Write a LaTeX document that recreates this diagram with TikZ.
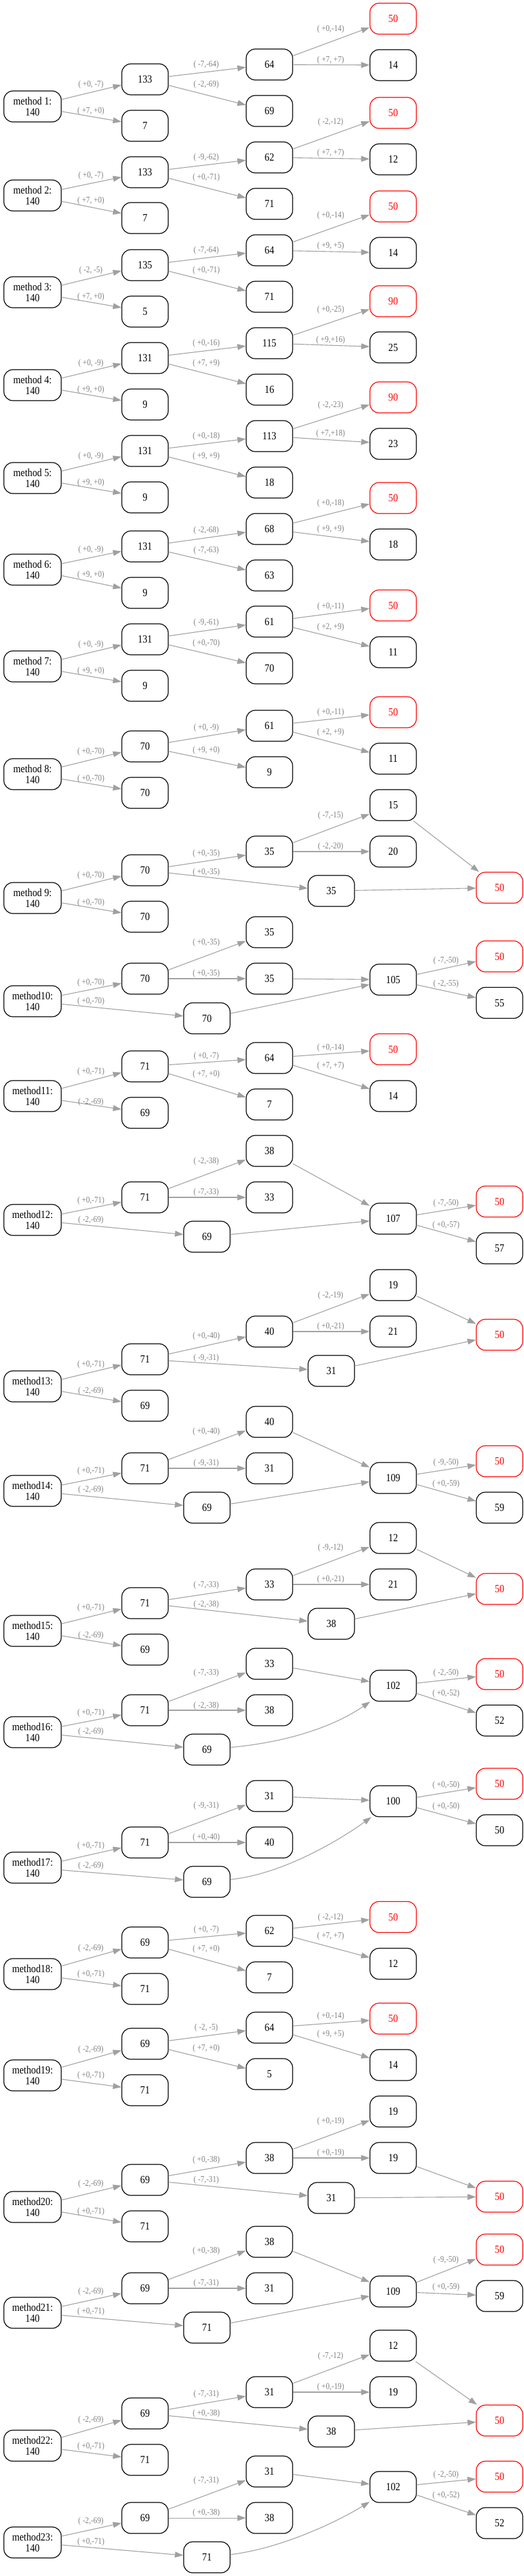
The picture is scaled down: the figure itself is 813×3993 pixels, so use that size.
\documentclass[tikz,border=0pt]{standalone}
\usepackage{fontspec}
\newfontfamily\nodefont[FakeStretch=0.87]{Liberation Serif}
\usetikzlibrary{arrows.meta}
\definecolor{edgegray}{RGB}{160,160,160}
\definecolor{labgray}{RGB}{128,128,128}
\definecolor{nodered}{RGB}{255,0,0}
\tikzset{
 nbox/.style={draw=black, line width=1.2pt, rounded corners=14pt, minimum width=72pt, minimum height=48pt, inner sep=0pt, font=\nodefont\fontsize{17}{17}\selectfont, align=center},
 redbox/.style={draw=nodered, text=nodered},
 mbox/.style={nbox, minimum width=89pt},
 conn/.style={draw=edgegray, line width=1.1pt, -{Triangle[length=13pt,width=9pt,fill=edgegray]}},
 lab/.style={text=labgray, font=\nodefont\fontsize{13.5}{13.5}\selectfont, inner sep=0pt},
}
\newcommand\boxnode[4]{\node[nbox] (#1) at (#2,#3) {#4};}
\newcommand\rednode[4]{\node[nbox,redbox] (#1) at (#2,#3) {#4};}
\newcommand\methnode[3]{\node[mbox] (#1) at (50.5,#2) {#3\\140};}
\newcommand\edgelab[5]{\draw[conn] (#1) -- (#2); \node[lab] (L#1#2) at (#3,#4) {#5};}
\newcommand\edgeplain[2]{\draw[conn] (#1) -- (#2);}
\begin{document}
\begin{tikzpicture}[x=1pt,y=-1pt]
\useasboundingbox (0,0) rectangle (813,3993);
% ---------- method 1
\methnode{m1}{165}{method 1:}
\boxnode{m1a}{225}{123}{133}
\boxnode{m1b}{225}{195}{7}
\boxnode{m1c}{418}{100}{64}
\boxnode{m1d}{418}{172}{69}
\rednode{m1e}{610}{29}{50}
\boxnode{m1f}{610}{101}{14}
\edgelab{m1}{m1a}{141}{131.7}{( +0, -7)}
\edgelab{m1}{m1b}{141}{172}{( +7, +0)}
\edgelab{m1a}{m1c}{320}{100}{( -7,-64)}
\edgelab{m1a}{m1d}{320}{131.7}{( -2,-69)}
\edgelab{m1c}{m1e}{513}{45}{( +0,-14)}
\edgelab{m1c}{m1f}{513}{93}{( +7, +7)}
% ---------- method 2
\methnode{m2}{303}{method 2:}
\boxnode{m2a}{225}{267}{133}
\boxnode{m2b}{225}{338}{7}
\boxnode{m2c}{418}{244}{62}
\boxnode{m2d}{418}{316}{71}
\rednode{m2e}{610}{175}{50}
\boxnode{m2f}{610}{247}{12}
\edgelab{m2}{m2a}{141}{272}{( +0, -7)}
\edgelab{m2}{m2b}{141}{311}{( +7, +0)}
\edgelab{m2a}{m2c}{320}{244}{( -9,-62)}
\edgelab{m2a}{m2d}{320}{275}{( +0,-71)}
\edgelab{m2c}{m2e}{513}{189}{( -2,-12)}
\edgelab{m2c}{m2f}{513}{237}{( +7, +7)}
% ---------- method 3
\methnode{m3}{453}{method 3:}
\boxnode{m3a}{225}{411}{135}
\boxnode{m3b}{225}{483}{5}
\boxnode{m3c}{418}{388}{64}
\boxnode{m3d}{418}{460}{71}
\rednode{m3e}{610}{320}{50}
\boxnode{m3f}{610}{392}{14}
\edgelab{m3}{m3a}{141}{419}{( -2, -5)}
\edgelab{m3}{m3b}{141}{460}{( +7, +0)}
\edgelab{m3a}{m3c}{320}{388.7}{( -7,-64)}
\edgelab{m3a}{m3d}{320}{419}{( +0,-71)}
\edgelab{m3c}{m3e}{513}{334}{( +0,-14)}
\edgelab{m3c}{m3f}{513}{381}{( +9, +5)}
% ---------- method 4
\methnode{m4}{597}{method 4:}
\boxnode{m4a}{225}{555}{131}
\boxnode{m4b}{225}{627}{9}
\boxnode{m4c}{418}{532}{115}
\boxnode{m4d}{418}{604}{16}
\rednode{m4e}{610}{467}{90}
\boxnode{m4f}{610}{538.5}{25}
\edgelab{m4}{m4a}{141}{563}{( +0, -9)}
\edgelab{m4}{m4b}{141}{604}{( +9, +0)}
\edgelab{m4a}{m4c}{320}{532}{( +0,-16)}
\edgelab{m4a}{m4d}{320}{563}{( +7, +9)}
\edgelab{m4c}{m4e}{513}{480}{( +0,-25)}
\edgelab{m4c}{m4f}{513}{527}{( +9,+16)}
% ---------- method 5
\methnode{m5}{741}{method 5:}
\boxnode{m5a}{225}{699}{131}
\boxnode{m5b}{225}{771}{9}
\boxnode{m5c}{418}{676}{113}
\boxnode{m5d}{418}{748}{18}
\rednode{m5e}{610}{616}{90}
\boxnode{m5f}{610}{688}{23}
\edgelab{m5}{m5a}{141}{707}{( +0, -9)}
\edgelab{m5}{m5b}{141}{748}{( +9, +0)}
\edgelab{m5a}{m5c}{320}{676}{( +0,-18)}
\edgelab{m5a}{m5d}{320}{707}{( +9, +9)}
\edgelab{m5c}{m5e}{513}{628}{( -2,-23)}
\edgelab{m5c}{m5f}{513}{672}{( +7,+18)}
% ---------- method 6
\methnode{m6}{883}{method 6:}
\boxnode{m6a}{225}{847}{131}
\boxnode{m6b}{225}{919}{9}
\boxnode{m6c}{418}{820}{68}
\boxnode{m6d}{418}{892}{63}
\rednode{m6e}{610}{772}{50}
\boxnode{m6f}{610}{844}{18}
\edgelab{m6}{m6a}{141}{852}{( +0, -9)}
\edgelab{m6}{m6b}{141}{891}{( +9, +0)}
\edgelab{m6a}{m6c}{320}{822}{( -2,-68)}
\edgelab{m6a}{m6d}{320}{853}{( -7,-63)}
\edgelab{m6c}{m6e}{513}{780}{( +0,-18)}
\edgelab{m6c}{m6f}{513}{820}{( +9, +9)}
% ---------- method 7
\methnode{m7}{1033}{method 7:}
\boxnode{m7a}{225}{991}{131}
\boxnode{m7b}{225}{1063}{9}
\boxnode{m7c}{418}{963.5}{61}
\boxnode{m7d}{418}{1036}{70}
\rednode{m7e}{610}{938.5}{50}
\boxnode{m7f}{610}{1011}{11}
\edgelab{m7}{m7a}{141}{999}{( +0, -9)}
\edgelab{m7}{m7b}{141}{1040}{( +9, +0)}
\edgelab{m7a}{m7c}{320}{965}{( -9,-61)}
\edgelab{m7a}{m7d}{320}{997}{( +0,-70)}
\edgelab{m7c}{m7e}{513}{940}{( +0,-11)}
\edgelab{m7c}{m7f}{513}{972}{( +2, +9)}
% ---------- method 8
\methnode{m8}{1200}{method 8:}
\boxnode{m8a}{225}{1157}{70}
\boxnode{m8b}{225}{1229}{70}
\boxnode{m8c}{418}{1125}{61}
\boxnode{m8d}{418}{1197}{9}
\rednode{m8e}{610}{1104}{50}
\boxnode{m8f}{610}{1176}{11}
\edgelab{m8}{m8a}{141}{1165}{( +0,-70)}
\edgelab{m8}{m8b}{141}{1207}{( +0,-70)}
\edgelab{m8a}{m8c}{320}{1128}{( +0, -9)}
\edgelab{m8a}{m8d}{320}{1163}{( +9, +0)}
\edgelab{m8c}{m8e}{513}{1104}{( +0,-11)}
\edgelab{m8c}{m8f}{513}{1135}{( +2, +9)}
% ---------- method 9
\methnode{m9}{1392}{method 9:}
\boxnode{m9a}{225}{1349}{70}
\boxnode{m9b}{225}{1421}{70}
\boxnode{m9c}{418}{1320}{35}
\boxnode{m9d}{514}{1381}{35}
\boxnode{m9e}{610}{1248}{15}
\boxnode{m9f}{610}{1320}{20}
\rednode{m9g}{775}{1376}{50}
\edgelab{m9}{m9a}{141}{1357}{( +0,-70)}
\edgelab{m9}{m9b}{141}{1399}{( +0,-70)}
\edgelab{m9a}{m9c}{320}{1323}{( +0,-35)}
\edgelab{m9a}{m9d}{320}{1352}{( +0,-35)}
\edgelab{m9c}{m9e}{513}{1264}{( -7,-15)}
\edgelab{m9c}{m9f}{513}{1312}{( -2,-20)}
\edgeplain{m9e}{m9g}
\edgeplain{m9d}{m9g}
% ---------- method 10
\methnode{m10}{1552}{method10:}
\boxnode{m10a}{225}{1517}{70}
\boxnode{m10b}{321}{1578.5}{70}
\boxnode{m10c}{418}{1445}{35}
\boxnode{m10d}{418}{1517}{35}
\boxnode{m10e}{610}{1518.5}{105}
\rednode{m10f}{775}{1482.5}{50}
\boxnode{m10g}{775}{1554.5}{55}
\edgelab{m10}{m10a}{141}{1523}{( +0,-70)}
\edgelab{m10}{m10b}{141}{1552}{( +0,-70)}
\edgelab{m10a}{m10c}{320}{1461}{( +0,-35)}
\edgelab{m10a}{m10d}{320}{1509}{( +0,-35)}
\edgeplain{m10d}{m10e}
\edgeplain{m10b}{m10e}
\edgelab{m10e}{m10f}{692}{1489}{( -7,-50)}
\edgelab{m10e}{m10g}{692}{1525}{( -2,-55)}
% ---------- method 11
\methnode{m11}{1699}{method11:}
\boxnode{m11a}{225}{1653}{71}
\boxnode{m11b}{225}{1725}{69}
\boxnode{m11c}{418}{1640}{64}
\boxnode{m11d}{418}{1712}{7}
\rednode{m11e}{610}{1626.5}{50}
\boxnode{m11f}{610}{1699}{14}
\edgelab{m11}{m11a}{141}{1661}{( +0,-71)}
\edgelab{m11}{m11b}{141}{1708}{( -2,-69)}
\edgelab{m11a}{m11c}{320}{1637}{( +0, -7)}
\edgelab{m11a}{m11d}{320}{1665}{( +7, +0)}
\edgelab{m11c}{m11e}{513}{1624}{( +0,-14)}
\edgelab{m11c}{m11f}{513}{1652}{( +7, +7)}
% ---------- method 12
\methnode{m12}{1891}{method12:}
\boxnode{m12a}{225}{1856}{71}
\boxnode{m12b}{321}{1917}{69}
\boxnode{m12c}{418}{1784}{38}
\boxnode{m12d}{418}{1856}{33}
\boxnode{m12e}{610}{1889}{107}
\rednode{m12f}{775}{1862.5}{50}
\boxnode{m12g}{775}{1935}{57}
\edgelab{m12}{m12a}{141}{1861}{( +0,-71)}
\edgelab{m12}{m12b}{141}{1891}{( -2,-69)}
\edgelab{m12a}{m12c}{320}{1800}{( -2,-38)}
\edgelab{m12a}{m12d}{320}{1848}{( -7,-33)}
\edgeplain{m12c}{m12e}
\edgeplain{m12b}{m12e}
\edgelab{m12e}{m12f}{692}{1865}{( -7,-50)}
\edgelab{m12e}{m12g}{692}{1899}{( +0,-57)}
% ---------- method 13
\methnode{m13}{2149}{method13:}
\boxnode{m13a}{225}{2107}{71}
\boxnode{m13b}{225}{2179}{69}
\boxnode{m13c}{418}{2064}{40}
\boxnode{m13d}{514}{2125}{31}
\boxnode{m13e}{610}{1992}{19}
\boxnode{m13f}{610}{2064}{21}
\rednode{m13g}{775}{2069}{50}
\edgelab{m13}{m13a}{141}{2115}{( +0,-71)}
\edgelab{m13}{m13b}{141}{2156}{( -2,-69)}
\edgelab{m13a}{m13c}{320}{2071}{( +0,-40)}
\edgelab{m13a}{m13d}{320}{2105}{( -9,-31)}
\edgelab{m13c}{m13e}{513}{2008}{( -2,-19)}
\edgelab{m13c}{m13f}{513}{2056}{( +0,-21)}
\edgeplain{m13e}{m13g}
\edgeplain{m13d}{m13g}
% ---------- method 14
\methnode{m14}{2311}{method14:}
\boxnode{m14a}{225}{2276}{71}
\boxnode{m14b}{321}{2337}{69}
\boxnode{m14c}{418}{2204}{40}
\boxnode{m14d}{418}{2276}{31}
\boxnode{m14e}{610}{2291}{109}
\rednode{m14f}{775}{2265}{50}
\boxnode{m14g}{775}{2337}{59}
\edgelab{m14}{m14a}{141}{2280}{( +0,-71)}
\edgelab{m14}{m14b}{141}{2309}{( -2,-69)}
\edgelab{m14a}{m14c}{320}{2219}{( +0,-40)}
\edgelab{m14a}{m14d}{320}{2268}{( -9,-31)}
\edgeplain{m14c}{m14e}
\edgeplain{m14b}{m14e}
\edgelab{m14e}{m14f}{692}{2267}{( -9,-50)}
\edgelab{m14e}{m14g}{692}{2300}{( +0,-59)}
% ---------- method 15
\methnode{m15}{2528}{method15:}
\boxnode{m15a}{225}{2485}{71}
\boxnode{m15b}{225}{2557}{69}
\boxnode{m15c}{418}{2456}{33}
\boxnode{m15d}{514}{2517}{38}
\boxnode{m15e}{610}{2384}{12}
\boxnode{m15f}{610}{2456}{21}
\rednode{m15g}{775}{2463}{50}
\edgelab{m15}{m15a}{141}{2492}{( +0,-71)}
\edgelab{m15}{m15b}{141}{2535}{( -2,-69)}
\edgelab{m15a}{m15c}{320}{2457}{( -7,-33)}
\edgelab{m15a}{m15d}{320}{2487}{( -2,-38)}
\edgelab{m15c}{m15e}{513}{2399}{( -9,-12)}
\edgelab{m15c}{m15f}{513}{2448}{( +0,-21)}
\edgeplain{m15e}{m15g}
\edgeplain{m15d}{m15g}
% ---------- method 16
\methnode{m16}{2685}{method16:}
\boxnode{m16a}{225}{2651}{71}
\boxnode{m16b}{321}{2712}{69}
\boxnode{m16c}{418}{2579}{33}
\boxnode{m16d}{418}{2651}{38}
\boxnode{m16e}{610}{2613}{102}
\rednode{m16f}{775}{2595}{50}
\boxnode{m16g}{775}{2667}{52}
\edgelab{m16}{m16a}{141}{2655}{( +0,-71)}
\edgelab{m16}{m16b}{141}{2684}{( -2,-69)}
\edgelab{m16a}{m16c}{320}{2593}{( -7,-33)}
\edgelab{m16a}{m16d}{320}{2644}{( -2,-38)}
\edgeplain{m16c}{m16e}
\draw[conn] (m16b) .. controls (450,2700) and (520,2675) .. (m16e);
\edgelab{m16e}{m16f}{692}{2593}{( -2,-50)}
\edgelab{m16e}{m16g}{692}{2625}{( +0,-52)}
% ---------- method 17
\methnode{m17}{2895}{method17:}
\boxnode{m17a}{225}{2856}{71}
\boxnode{m17b}{321}{2917}{69}
\boxnode{m17c}{418}{2784}{31}
\boxnode{m17d}{418}{2856}{40}
\boxnode{m17e}{610}{2792}{100}
\rednode{m17f}{775}{2765}{50}
\boxnode{m17g}{775}{2837}{50}
\edgelab{m17}{m17a}{141}{2861}{( +0,-71)}
\edgelab{m17}{m17b}{141}{2892}{( -2,-69)}
\edgelab{m17a}{m17c}{320}{2799}{( -9,-31)}
\edgelab{m17a}{m17d}{320}{2848}{( +0,-40)}
\edgeplain{m17c}{m17e}
\draw[conn] (m17b) .. controls (440,2905) and (530,2850) .. (m17e);
\edgelab{m17e}{m17f}{692}{2767}{( +0,-50)}
\edgelab{m17e}{m17g}{692}{2800}{( +0,-50)}
% ---------- method 18
\methnode{m18}{3060}{method18:}
\boxnode{m18a}{225}{3011}{69}
\boxnode{m18b}{225}{3083}{71}
\boxnode{m18c}{418}{2993}{62}
\boxnode{m18d}{418}{3065}{7}
\rednode{m18e}{610}{2971.5}{50}
\boxnode{m18f}{610}{3044}{12}
\edgelab{m18}{m18a}{141}{3020}{( -2,-69)}
\edgelab{m18}{m18b}{141}{3060}{( +0,-71)}
\edgelab{m18a}{m18c}{320}{2991}{( +0, -7)}
\edgelab{m18a}{m18d}{320}{3021}{( +7, +0)}
\edgelab{m18c}{m18e}{513}{2972}{( -2,-12)}
\edgelab{m18c}{m18f}{513}{3001}{( +7, +7)}
% ---------- method 19
\methnode{m19}{3217}{method19:}
\boxnode{m19a}{225}{3168}{69}
\boxnode{m19b}{225}{3240}{71}
\boxnode{m19c}{418}{3143}{64}
\boxnode{m19d}{418}{3215}{5}
\rednode{m19e}{610}{3129}{50}
\boxnode{m19f}{610}{3201}{14}
\edgelab{m19}{m19a}{141}{3177}{( -2,-69)}
\edgelab{m19}{m19b}{141}{3217}{( +0,-71)}
\edgelab{m19a}{m19c}{320}{3143}{( -2, -5)}
\edgelab{m19a}{m19d}{320}{3175}{( +7, +0)}
\edgelab{m19c}{m19e}{513}{3125}{( +0,-14)}
\edgelab{m19c}{m19f}{513}{3153}{( +9, +5)}
% ---------- method 20
\methnode{m20}{3421}{method20:}
\boxnode{m20a}{225}{3379}{69}
\boxnode{m20b}{225}{3451}{71}
\boxnode{m20c}{418}{3345}{38}
\boxnode{m20d}{514}{3407}{31}
\boxnode{m20e}{610}{3273}{19}
\boxnode{m20f}{610}{3345}{19}
\rednode{m20g}{775}{3405}{50}
\edgelab{m20}{m20a}{141}{3385}{( -2,-69)}
\edgelab{m20}{m20b}{141}{3428}{( +0,-71)}
\edgelab{m20a}{m20c}{320}{3348}{( +0,-38)}
\edgelab{m20a}{m20d}{320}{3379}{( -7,-31)}
\edgelab{m20c}{m20e}{513}{3288}{( +0,-19)}
\edgelab{m20c}{m20f}{513}{3337}{( +0,-19)}
\edgeplain{m20f}{m20g}
\edgeplain{m20d}{m20g}
% ---------- method 21
\methnode{m21}{3585}{method21:}
\boxnode{m21a}{225}{3547}{69}
\boxnode{m21b}{321}{3608}{71}
\boxnode{m21c}{418}{3475}{38}
\boxnode{m21d}{418}{3547}{31}
\boxnode{m21e}{610}{3552}{109}
\rednode{m21f}{775}{3487}{50}
\boxnode{m21g}{775}{3559}{59}
\edgelab{m21}{m21a}{141}{3552}{( -2,-69)}
\edgelab{m21}{m21b}{141}{3583}{( +0,-71)}
\edgelab{m21a}{m21c}{320}{3489}{( +0,-38)}
\edgelab{m21a}{m21d}{320}{3539}{( -7,-31)}
\edgeplain{m21c}{m21e}
\edgeplain{m21b}{m21e}
\edgelab{m21e}{m21f}{692}{3503}{( -9,-50)}
\edgelab{m21e}{m21g}{692}{3545}{( +0,-59)}
% ---------- method 22
\methnode{m22}{3791}{method22:}
\boxnode{m22a}{225}{3741}{69}
\boxnode{m22b}{225}{3813}{71}
\boxnode{m22c}{418}{3708}{31}
\boxnode{m22d}{514}{3769}{38}
\boxnode{m22e}{610}{3636}{12}
\boxnode{m22f}{610}{3708}{19}
\rednode{m22g}{775}{3752}{50}
\edgelab{m22}{m22a}{141}{3751}{( -2,-69)}
\edgelab{m22}{m22b}{141}{3792}{( +0,-71)}
\edgelab{m22a}{m22c}{320}{3711}{( -7,-31)}
\edgelab{m22a}{m22d}{320}{3741}{( +0,-38)}
\edgelab{m22c}{m22e}{513}{3652}{( -7,-12)}
\edgelab{m22c}{m22f}{513}{3700}{( +0,-19)}
\edgeplain{m22e}{m22g}
\edgeplain{m22d}{m22g}
% ---------- method 23
\methnode{m23}{3941}{method23:}
\boxnode{m23a}{225}{3903}{69}
\boxnode{m23b}{321}{3964}{71}
\boxnode{m23c}{418}{3831}{31}
\boxnode{m23d}{418}{3903}{38}
\boxnode{m23e}{610}{3855}{102}
\rednode{m23f}{775}{3839}{50}
\boxnode{m23g}{775}{3911}{52}
\edgelab{m23}{m23a}{141}{3908}{( -2,-69)}
\edgelab{m23}{m23b}{141}{3940}{( +0,-71)}
\edgelab{m23a}{m23c}{320}{3845}{( -7,-31)}
\edgelab{m23a}{m23d}{320}{3895}{( +0,-38)}
\edgeplain{m23c}{m23e}
\draw[conn] (m23b) .. controls (440,3950) and (530,3905) .. (m23e);
\edgelab{m23e}{m23f}{692}{3836}{( -2,-50)}
\edgelab{m23e}{m23g}{692}{3868}{( +0,-52)}
\end{tikzpicture}
\end{document}
